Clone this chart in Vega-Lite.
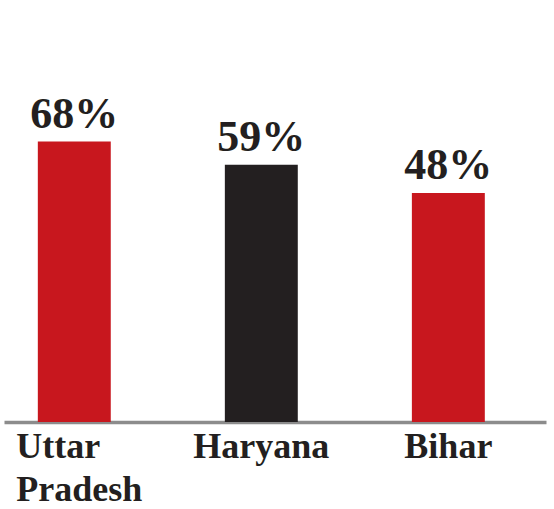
{
  "$schema": "https://vega.github.io/schema/vega-lite/v6.json",
  "width": 542,
  "height": 422,
  "autosize": {"type": "none"},
  "padding": {"left": 4, "top": 0, "right": 8, "bottom": 87},
  "background": "#ffffff",
  "config": {"view": {"stroke": null}},
  "data": {
    "values": [
      {"state": "Uttar Pradesh", "value": 68, "label": "68%", "group": "a"},
      {"state": "Haryana", "value": 59, "label": "59%", "group": "b"},
      {"state": "Bihar", "value": 48, "label": "48%", "group": "a"}
    ]
  },
  "encoding": {
    "x": {
      "field": "state",
      "type": "nominal",
      "sort": null,
      "scale": {"type": "band", "paddingInner": 0.61, "paddingOuter": 0.254, "align": 0.356},
      "axis": {
        "title": null,
        "ticks": false,
        "grid": false,
        "labelAngle": 0,
        "labelFont": "Liberation Serif",
        "labelFontWeight": "bold",
        "labelFontSize": 36,
        "labelColor": "#231f20",
        "labelBaseline": "alphabetic",
        "labelPadding": 35,
        "labelLineHeight": 43,
        "labelFlush": false,
        "labelOverlap": false,
        "labelLimit": 300,
        "labelExpr": "datum.value == 'Uttar Pradesh' ? ['Uttar', 'Pradesh'] : datum.value",
        "labelAlign": {"condition": {"test": "datum.value == 'Uttar Pradesh'", "value": "left"}, "value": "center"},
        "labelOffset": {"condition": {"test": "datum.value == 'Uttar Pradesh'", "value": -58}, "value": 0},
        "domainColor": "#8c8c8c",
        "domainWidth": 3.5
      }
    }
  },
  "layer": [
    {
      "mark": {"type": "bar"},
      "encoding": {
        "y": {"field": "value", "type": "quantitative", "scale": {"domain": [-41, 123], "zero": false, "nice": false}, "axis": null},
        "y2": {"datum": -41},
        "color": {"field": "group", "type": "nominal", "scale": {"domain": ["a", "b"], "range": ["#c8171e", "#231f20"]}, "legend": null}
      }
    },
    {
      "mark": {"type": "text", "font": "Liberation Serif", "fontWeight": "bold", "fontSize": 44, "color": "#231f20", "baseline": "alphabetic", "align": "center", "dy": -14},
      "encoding": {
        "y": {"field": "value", "type": "quantitative"},
        "text": {"field": "label"}
      }
    }
  ]
}
